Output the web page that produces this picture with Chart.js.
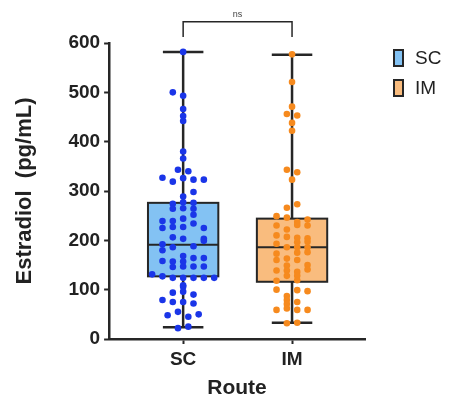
<!DOCTYPE html>
<html lang="en">
<head>
<meta charset="UTF-8">
<title>Estradiol by route</title>
<script src="https://cdn.jsdelivr.net/npm/chart.js"></script>
<style>
  html, body { margin: 0; padding: 0; background: #fff; }
</style>
</head>
<body>
<canvas id="chart" width="454" height="398"></canvas>
<script>
const routes = ['SC', 'IM'];

// box stats: [lower whisker, Q1, median, Q3, upper whisker]
const scBox = [24, 127, 191, 276, 582];
const imBox = [33, 116, 186, 244, 576];

// individual samples: [pg/mL, horizontal column offset in dot widths]
const scPoints = [
  [582, 0], [500, -1], [493, 0], [466, 0], [452, 0], [442, 0], [380, 0], [366, 0],
  [343, -0.5], [340, 0.5], [327, -2], [319, -1], [326, 0], [323, 1], [323, 2],
  [289, 0], [298, 1],
  [274, -1], [277, 0], [276, 1], [264, -1], [265, 0], [264, 1], [252, 1],
  [239, -2], [239, -1], [244, 0], [234, 1], [225, 2], [225, -2], [227, -1], [227, 0],
  [206, -1], [203, 0], [203, 2], [199, 2], [192, -2], [188, 1],
  [180, -2], [186, -1], [168, 0], [164, 1], [164, 2], [158, -2], [157, -1], [157, 0],
  [146, -1], [147, 0], [147, 1], [147, 2],
  [131, -3], [127, -2], [124, -1], [124, 0], [124, 1], [124, 2], [124, 3],
  [109, 0], [106, 0], [96, 0], [94, -1], [90, 1], [79, -2], [75, -1], [75, 0], [72, 1],
  [55, -0.5], [48, -1.5], [45, 0.5], [50, 1.5], [22, -0.5], [25, 0.5]
];
const imPoints = [
  [577, 0], [521, 0], [471, 0], [456, -0.5], [453, 0.5], [438, 0], [422, 0],
  [343, -0.5], [338, 0.5], [323, 0], [273, 0.5], [266, -0.5],
  [249, -1.5], [246, -0.5], [237, 0.5], [242, 1.5], [230, -1.5], [222, -0.5], [231, 0.5], [230, 1.5],
  [210, -1.5], [207, -0.5], [205, 0.5], [204, 1.5], [197, 1.5], [193, -1.5], [186, -0.5],
  [196, 0.5], [186, 0.5], [186, 1.5], [176, 1.5], [173, -1.5], [175, 0.5],
  [160, -1.5], [160, 0.5], [163, -0.5], [149, -0.5], [150, 1.5],
  [139, -1.5], [139, -0.5], [136, 0.5], [141, 1.5], [128, -0.5], [128, 0.5], [119, 0.5], [118, -1.5],
  [100, -1.5], [99, 0.5], [97, 1.5], [87, -0.5], [79, -0.5], [75, 0.5], [71, -0.5],
  [59, -1.5], [62, -0.5], [59, 0.5], [59, 1.5], [32, -0.5], [33, 0.5]
];

const yTicks = [0, 100, 200, 300, 400, 500, 600];
const sigLabel = 'ns';

const fills = ['#83c2f3', '#f9bc7e'];
const dots = ['#1a35e8', '#f68a1e'];
const ink = '#262626';
const step = 0.095; // one dot width in x units

const boxPlot = {
  id: 'boxPlot',
  beforeDatasetsDraw(chart) {
    const {ctx, scales: {x, y}} = chart;
    [scBox, imBox].forEach((b, i) => {
      const cx = x.getPixelForValue(i + 1);
      const half = x.getPixelForValue(i + 1.323) - cx;
      const cap = x.getPixelForValue(i + 1.186) - cx;
      ctx.save();
      ctx.strokeStyle = ink;
      ctx.lineWidth = 2.5;
      ctx.beginPath();
      ctx.moveTo(cx, y.getPixelForValue(b[0]));
      ctx.lineTo(cx, y.getPixelForValue(b[4]));
      ctx.moveTo(cx - cap, y.getPixelForValue(b[0]));
      ctx.lineTo(cx + cap, y.getPixelForValue(b[0]));
      ctx.moveTo(cx - cap, y.getPixelForValue(b[4]));
      ctx.lineTo(cx + cap, y.getPixelForValue(b[4]));
      ctx.stroke();
      const top = y.getPixelForValue(b[3]), bot = y.getPixelForValue(b[1]);
      ctx.fillStyle = fills[i];
      ctx.fillRect(cx - half, top, half * 2, bot - top);
      ctx.lineWidth = 2;
      ctx.strokeRect(cx - half, top, half * 2, bot - top);
      ctx.beginPath();
      ctx.moveTo(cx - half, y.getPixelForValue(b[2]));
      ctx.lineTo(cx + half, y.getPixelForValue(b[2]));
      ctx.stroke();
      ctx.restore();
    });
  },
  afterDraw(chart) {
    const {ctx, chartArea, scales: {x, y}} = chart;
    ctx.save();
    // significance bracket
    const x1 = x.getPixelForValue(1), x2 = x.getPixelForValue(2);
    const yt = y.getPixelForValue(643), yb = y.getPixelForValue(612);
    ctx.strokeStyle = ink;
    ctx.lineWidth = 1.5;
    ctx.beginPath();
    ctx.moveTo(x1, yb); ctx.lineTo(x1, yt); ctx.lineTo(x2, yt); ctx.lineTo(x2, yb);
    ctx.stroke();
    ctx.fillStyle = '#444';
    ctx.font = '9px "Liberation Sans", Arial, sans-serif';
    ctx.textAlign = 'center';
    ctx.textBaseline = 'bottom';
    ctx.fillText(sigLabel, (x1 + x2) / 2, yt - 3);
    // legend
    ctx.font = '19px "Liberation Sans", Arial, sans-serif';
    ctx.textAlign = 'left';
    ctx.textBaseline = 'middle';
    routes.forEach((r, i) => {
      const lx = chartArea.right + 29, ly = 50 + i * 30;
      ctx.fillStyle = fills[i];
      ctx.fillRect(lx, ly, 9, 16);
      ctx.lineWidth = 2;
      ctx.strokeRect(lx, ly, 9, 16);
      ctx.fillStyle = '#222';
      ctx.fillText(r, lx + 21, ly + 8.5);
    });
    ctx.restore();
  }
};

const axisFont = {family: '"Liberation Sans", Arial, sans-serif', weight: 'bold', size: 19};

new Chart(document.getElementById('chart'), {
  type: 'scatter',
  data: {
    datasets: [scPoints, imPoints].map((pts, i) => ({
      label: routes[i],
      data: pts.map(([v, c]) => ({x: i + 1 + c * step, y: v})),
      backgroundColor: dots[i],
      borderWidth: 0,
      pointRadius: 3.3,
      pointHoverRadius: 3.3
    }))
  },
  options: {
    responsive: false,
    animation: false,
    layout: {padding: {top: 43, right: 89, left: 12, bottom: -3}},
    plugins: {legend: {display: false}, tooltip: {enabled: false}},
    scales: {
      x: {
        type: 'linear',
        min: 0.32,
        max: 2.67,
        afterBuildTicks: axis => { axis.ticks = routes.map((r, i) => ({value: i + 1})); },
        ticks: {callback: v => routes[Math.round(v) - 1], font: axisFont, color: '#222', padding: 4},
        grid: {drawOnChartArea: false, tickLength: 5, tickWidth: 2, color: ink},
        border: {color: ink, width: 2.5},
        title: {display: true, text: 'Route', font: {...axisFont, size: 21}, color: '#222', padding: {top: 1, bottom: 0}}
      },
      y: {
        min: 0,
        max: 600,
        afterBuildTicks: axis => { axis.ticks = yTicks.map(v => ({value: v})); },
        ticks: {font: axisFont, color: '#222', padding: 4},
        grid: {drawOnChartArea: false, tickLength: 5, tickWidth: 2, color: ink},
        border: {color: ink, width: 2.5},
        title: {display: true, text: 'Estradiol  (pg/mL)', font: {...axisFont, size: 22}, color: '#222', padding: {top: 0, bottom: 26}}
      }
    }
  },
  plugins: [boxPlot]
});
</script>
</body>
</html>
